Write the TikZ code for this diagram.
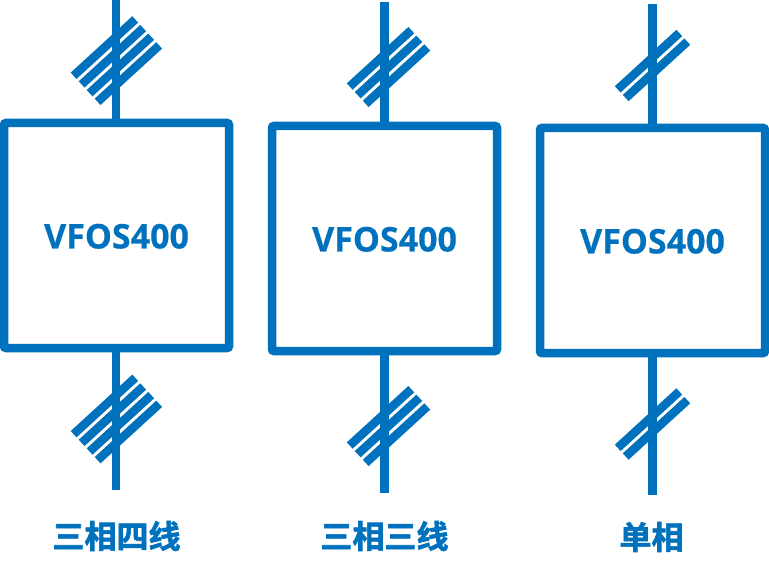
\documentclass[tikz,border=0pt]{standalone}
\usepackage{fontspec}
\setmainfont{Open Sans}[BoldFeatures={FakeBold=0.4}]
\newfontfamily\cjk{Noto Sans CJK SC}[BoldFont=* Bold,BoldFeatures={FakeBold=2}]
\usetikzlibrary{positioning,calc}
\definecolor{vfblue}{HTML}{0071BC}
\tikzset{
  vfbox/.style={draw=vfblue, line width=8.5pt, rounded corners=2pt, minimum size=225pt, inner sep=0pt, outer sep=0pt,
    text=vfblue, text height=26.3pt, font=\fontsize{34pt}{38pt}\selectfont\bfseries},
  vflabel/.style={text=vfblue, inner sep=0pt, font=\fontsize{32pt}{36pt}\selectfont\cjk\bfseries},
  wire/.style={draw=vfblue, line width=8.5pt},
  tick/.style={draw=vfblue, line width=8.6pt}
}
% strokes across a wire: #1 = centre, #2 = how many
\newcommand{\strokes}[2]{
  \foreach \k in {1,...,#2}{
    \draw[tick] ($(#1)+({(\k-(#2+1)/2)*8},{(\k-(#2+1)/2)*8.67})+(-30.8,28.2)$) -- ++(61.6,-56.4);
  }
}
\begin{document}
\begin{tikzpicture}[x=1pt, y=-1pt]
  \useasboundingbox (0,0) rectangle (769,575);

  \node[vfbox] (box1) at (116.5,235.5) {VFOS400};
  \node[vfbox] (box2) at (384.5,238.5) {VFOS400};
  \node[vfbox] (box3) at (652.5,240.5) {VFOS400};

  \coordinate (in1) at (116,0);
  \coordinate (in2) at (384.5,2);
  \coordinate (in3) at (652.5,4);
  \coordinate (out1) at (116,490);
  \coordinate (out2) at (384.5,493);
  \coordinate (out3) at (652.5,495);

  \coordinate (s1a) at (116.4,60.6);
  \coordinate (s1b) at (116.4,419);
  \coordinate (s2a) at (388.5,67);
  \coordinate (s2b) at (388.5,426);
  \coordinate (s3a) at (652.5,65.5);
  \coordinate (s3b) at (652.5,424);

  \strokes{s1a}{4}
  \strokes{s1b}{4}
  \strokes{s2a}{3}
  \strokes{s2b}{3}
  \strokes{s3a}{2}
  \strokes{s3b}{2}

  \path[wire]
  (in1) edge (in1 |- box1.north)
  (out1) edge (out1 |- box1.south)
  (in2) edge (in2 |- box2.north)
  (out2) edge (out2 |- box2.south)
  (in3) edge (in3 |- box3.north)
  (out3) edge (out3 |- box3.south)
  ;

  \node[vflabel] (name1) at (116.5,536) {三相四线};
  \node[vflabel] (name2) at (384.5,536) {三相三线};
  \node[vflabel] (name3) at (651.5,537) {单相};
\end{tikzpicture}
\end{document}
